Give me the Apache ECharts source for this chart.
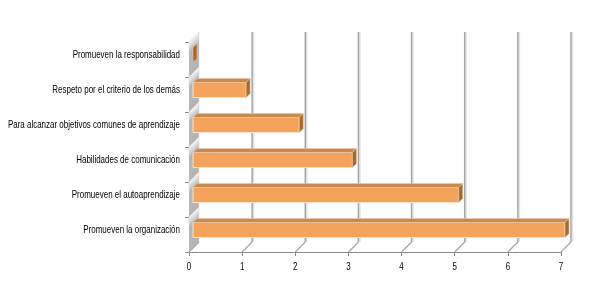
<!DOCTYPE html>
<html>
<head>
<meta charset="utf-8">
<script src="https://cdn.jsdelivr.net/npm/echarts@6/dist/echarts.min.js"></script>
<style>
  html, body { margin: 0; padding: 0; background: #fff; }
  #chart { width: 590px; height: 290px; }
</style>
</head>
<body>
<div id="chart"></div>
<script>
// categories top to bottom
const categories = [
  "Promueven la responsabilidad",
  "Respeto por el criterio de los demás",
  "Para alcanzar objetivos comunes de aprendizaje",
  "Habilidades de comunicación",
  "Promueven el autoaprendizaje",
  "Promueven la organización"
];
const counts = [0, 1, 2, 3, 5, 7];
const valueTicks = [0, 1, 2, 3, 4, 5, 6, 7];

const FONT = "'Liberation Sans', Arial, sans-serif";
// depth offset of the back plane
const DX = 10, DY = -10;
// the source uses a condensed face; squeeze the text horizontally
const SQUEEZE = 0.76;

const chart = echarts.init(document.getElementById("chart"));

function renderFrame(params, api) {
  const children = [];
  const bandH = api.size([0, 1])[1];
  // left wall, one segment per category
  categories.forEach((c, i) => {
    const p = api.coord([0, i]);
    const top = p[1] - bandH / 2, bot = p[1] + bandH / 2;
    children.push({
      type: "polygon",
      shape: { points: [[p[0], top], [p[0] + DX, top + DY], [p[0] + DX, bot + DY], [p[0], bot]] },
      style: {
        fill: new echarts.graphic.LinearGradient(0, 0, 1, 0.25, [
          { offset: 0, color: "#a8a8a8" },
          { offset: 0.45, color: "#fafafa" },
          { offset: 0.75, color: "#d6d6d6" },
          { offset: 1, color: "#b4b4b4" }
        ]),
        stroke: "#d4d4d4",
        lineWidth: 0.5
      }
    });
    // category label
    children.push({
      type: "text",
      x: p[0] - 9,
      y: p[1] - 4.5,
      scaleX: SQUEEZE,
      style: {
        text: c,
        align: "right",
        verticalAlign: "middle",
        fill: "#000",
        font: "10.5px " + FONT
      }
    });
  });
  const first = api.coord([0, 0]);
  const last = api.coord([0, categories.length - 1]);
  const yTop = first[1] - bandH / 2;
  const yBot = last[1] + bandH / 2;
  valueTicks.forEach((v) => {
    const x = api.coord([v, 0])[0];
    // floor diagonal
    children.push({
      type: "line",
      shape: { x1: x, y1: yBot, x2: x + DX, y2: yBot + DY },
      style: { stroke: "#a6a6a6", lineWidth: 1.2 }
    });
    if (v > 0) {
      // back gridline with light edge
      children.push({
        type: "line",
        shape: { x1: x + DX + 1.5, y1: yTop + DY, x2: x + DX + 1.5, y2: yBot + DY },
        style: { stroke: "#e3e3e3", lineWidth: 1.5 }
      });
      children.push({
        type: "line",
        shape: { x1: x + DX, y1: yTop + DY, x2: x + DX, y2: yBot + DY },
        style: { stroke: "#a6a6a6", lineWidth: 1.5 }
      });
    }
    // value label
    children.push({
      type: "text",
      x: x,
      y: yBot + 15,
      scaleX: SQUEEZE,
      style: {
        text: String(v),
        align: "center",
        verticalAlign: "middle",
        fill: "#000",
        font: "10.5px " + FONT
      }
    });
  });
  return { type: "group", children: children };
}

function renderBar(params, api) {
  const v = api.value(0);
  const ci = api.value(1);
  const p0 = api.coord([0, ci]);
  const p1 = api.coord([v, ci]);
  const bandH = api.size([0, 1])[1];
  const h = bandH * 0.43;
  const fx = 4, fy = -4.5, d = 4;
  const x0 = p0[0] + fx, x1 = p1[0] + fx;
  const yT = p0[1] + fy - h / 2, yB = p0[1] + fy + h / 2;
  const children = [];
  if (x1 > x0) {
    children.push({
      type: "rect",
      shape: { x: x0, y: yT, width: x1 - x0, height: h },
      style: { fill: "#f4a35c", stroke: "#fbe3cc", lineWidth: 1 }
    });
  }
  children.push({
    type: "polygon",
    shape: { points: [[x0, yT], [x1, yT], [x1 + d, yT - d], [x0 + d, yT - d]] },
    style: { fill: "#c98a4c", stroke: "#e9c8a6", lineWidth: 0.6 }
  });
  children.push({
    type: "polygon",
    shape: { points: [[x1, yT], [x1 + d, yT - d], [x1 + d, yB - d], [x1, yB]] },
    style: { fill: "#a8682c", stroke: "#e6c4a2", lineWidth: 0.6 }
  });
  return { type: "group", children: children };
}

const option = {
  animation: false,
  backgroundColor: "#ffffff",
  grid: { left: 189, right: 29, top: 42, bottom: 38, outerBoundsMode: "none" },
  xAxis: {
    type: "value",
    min: 0,
    max: 7,
    interval: 1,
    axisLine: { show: true, lineStyle: { color: "#8c8c8c", width: 1 } },
    axisTick: { show: true, length: 4, lineStyle: { color: "#8c8c8c" } },
    splitLine: { show: false },
    axisLabel: { show: false }
  },
  yAxis: {
    type: "category",
    inverse: true,
    data: categories,
    axisLine: { show: true, lineStyle: { color: "#8c8c8c", width: 1 } },
    axisTick: { show: true, length: 4, lineStyle: { color: "#8c8c8c" } },
    axisLabel: { show: false }
  },
  series: [
    {
      type: "custom",
      renderItem: renderFrame,
      data: [[0, 0]],
      encode: { x: 0, y: 1 },
      clip: false,
      silent: true,
      z: 1
    },
    {
      type: "custom",
      renderItem: renderBar,
      data: counts.map((v, i) => [v, i]),
      encode: { x: 0, y: 1 },
      clip: false,
      z: 5
    }
  ]
};

chart.setOption(option);
</script>
</body>
</html>
